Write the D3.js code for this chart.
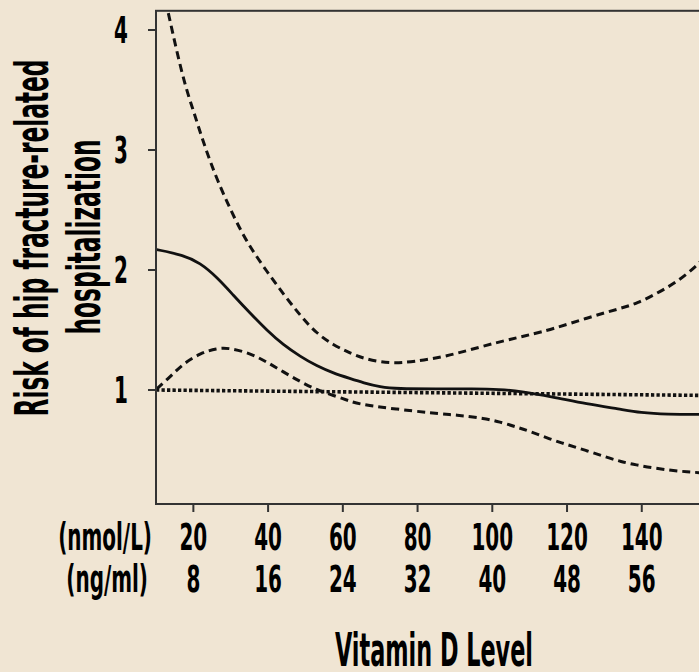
<!DOCTYPE html>
<html>
<head>
<meta charset="utf-8">
<script src="https://cdn.jsdelivr.net/npm/d3@7"></script>
<style>
  body { margin: 0; background: #f0e5d3; }
  svg { display: block; }
  text { font-family: "Liberation Sans Narrow", "DejaVu Sans Condensed", "Liberation Sans", sans-serif; font-weight: bold; fill: #000; }
</style>
</head>
<body>
<svg id="chart" width="699" height="672"></svg>
<script>
// tick labels
const nmolTicks = [20, 40, 60, 80, 100, 120, 140];
const ngTicks = [8, 16, 24, 32, 40, 48, 56];
const yTicks = [1, 2, 3, 4];

// [vitamin D nmol/L, relative risk]
const estimate = [
  [10.2, 2.17], [17.2, 2.125], [21.8, 2.06], [26.3, 1.94], [30.7, 1.79], [35.2, 1.64],
  [39.6, 1.5], [44.1, 1.375], [48.6, 1.28], [53, 1.2], [57.5, 1.14], [62, 1.095],
  [65.5, 1.06], [70, 1.025], [74.5, 1.01], [85, 1.01], [95, 1.01], [102, 1.005],
  [107.5, 0.99], [116, 0.944], [125.3, 0.883], [134.2, 0.84], [139.6, 0.81],
  [146.7, 0.797], [156, 0.797]
];
const upper = [
  [13.3, 4.14], [17.3, 3.58], [20, 3.33], [22.7, 3.06], [26.3, 2.75], [31.6, 2.39],
  [35.2, 2.19], [39.6, 1.99], [44.1, 1.8], [48.6, 1.62], [53, 1.47], [57.5, 1.375],
  [61.1, 1.32], [65.5, 1.26], [72.7, 1.22], [78.9, 1.235], [87.8, 1.28], [96.8, 1.36],
  [105.7, 1.43], [110.1, 1.46], [116.4, 1.51], [125.3, 1.6], [134.2, 1.68],
  [138.7, 1.72], [145, 1.82], [150.3, 1.92], [154.8, 2.04], [156, 2.08]
];
const lower = [
  [10.2, 1.01], [13.8, 1.11], [17.3, 1.22], [21.8, 1.305], [26.3, 1.35], [29.8, 1.35],
  [35.2, 1.305], [39.6, 1.235], [44.1, 1.15], [48.6, 1.07], [53, 1.0], [57.5, 0.955],
  [62, 0.905], [65.5, 0.875], [74.5, 0.84], [83.4, 0.81], [88.8, 0.795], [92.3, 0.785],
  [97.6, 0.765], [102, 0.735], [106.6, 0.69], [110.1, 0.655], [115.5, 0.59],
  [120, 0.545], [125, 0.497], [130, 0.445], [134.2, 0.405], [138.5, 0.375],
  [143.2, 0.35], [148, 0.33], [152.1, 0.318], [156, 0.31]
];
const reference = [[10, 1.0], [156, 0.955]];

const svg = d3.select("#chart");
const x = d3.scaleLinear().domain([10, 160]).range([156, 716.5]);
const y = d3.scaleLinear().domain([0, 4]).range([510, 30]);
const yTop = 4.16, yBottom = 0.05;

svg.append("rect").attr("width", 699).attr("height", 672).attr("fill", "#f0e5d3");

svg.append("defs").append("clipPath").attr("id", "plot")
  .append("rect")
  .attr("x", x(10)).attr("y", y(yTop))
  .attr("width", x(160) - x(10)).attr("height", y(yBottom) - y(yTop));

const line = d3.line().x(d => x(d[0])).y(d => y(d[1])).curve(d3.curveBasis);
const plot = svg.append("g").attr("clip-path", "url(#plot)");

plot.append("path").datum(reference).attr("d", line)
  .attr("fill", "none").attr("stroke", "#111").attr("stroke-width", 3.6)
  .attr("stroke-dasharray", "3.3,2.2");
plot.append("path").datum(estimate).attr("d", line)
  .attr("fill", "none").attr("stroke", "#111").attr("stroke-width", 2.8);
[upper, lower].forEach(s => {
  plot.append("path").datum(s).attr("d", line)
    .attr("fill", "none").attr("stroke", "#111").attr("stroke-width", 3)
    .attr("stroke-dasharray", "8,5");
});

// frame
svg.append("rect")
  .attr("x", x(10)).attr("y", y(yTop))
  .attr("width", x(160) - x(10)).attr("height", y(yBottom) - y(yTop))
  .attr("fill", "none").attr("stroke", "#333").attr("stroke-width", 2);

// y axis
svg.selectAll(".ytick").data(yTicks).enter().append("line")
  .attr("x1", x(10) - 8).attr("x2", x(10))
  .attr("y1", d => y(d)).attr("y2", d => y(d))
  .attr("stroke", "#333").attr("stroke-width", 2);

// x axis
svg.selectAll(".xtick").data(nmolTicks).enter().append("line")
  .attr("x1", d => x(d)).attr("x2", d => x(d))
  .attr("y1", y(yBottom)).attr("y2", y(yBottom) + 8)
  .attr("stroke", "#333").attr("stroke-width", 2);

// condensed text helper
function label(px, py, str, size, anchor, sx) {
  svg.append("text")
    .attr("transform", `translate(${px},${py}) scale(${sx},1)`)
    .attr("text-anchor", anchor)
    .attr("font-size", size)
    .text(str);
}

const tickSize = 37, tickScale = 0.6;
yTicks.forEach(d => label(128, y(d) + 13, d, tickSize, "end", tickScale));
nmolTicks.forEach(d => label(x(d), 550, d, tickSize, "middle", tickScale));
ngTicks.forEach((d, i) => label(x(nmolTicks[i]), 592, d, tickSize, "middle", tickScale));
label(152, 550, "(nmol/L)", tickSize, "end", tickScale);
label(148, 592, "(ng/ml)", tickSize, "end", tickScale);

// titles with fixed lengths
function title(px, py, str, len, rot) {
  svg.append("text")
    .attr("transform", `translate(${px},${py}) rotate(${rot})`)
    .attr("text-anchor", "middle")
    .attr("font-size", 46)
    .attr("textLength", len)
    .attr("lengthAdjust", "spacingAndGlyphs")
    .text(str);
}
title(48, 238, "Risk of hip fracture-related", 357, -90);
title(100, 237, "hospitalization", 195, -90);
title(434, 666, "Vitamin D Level", 198, 0);
</script>
</body>
</html>
